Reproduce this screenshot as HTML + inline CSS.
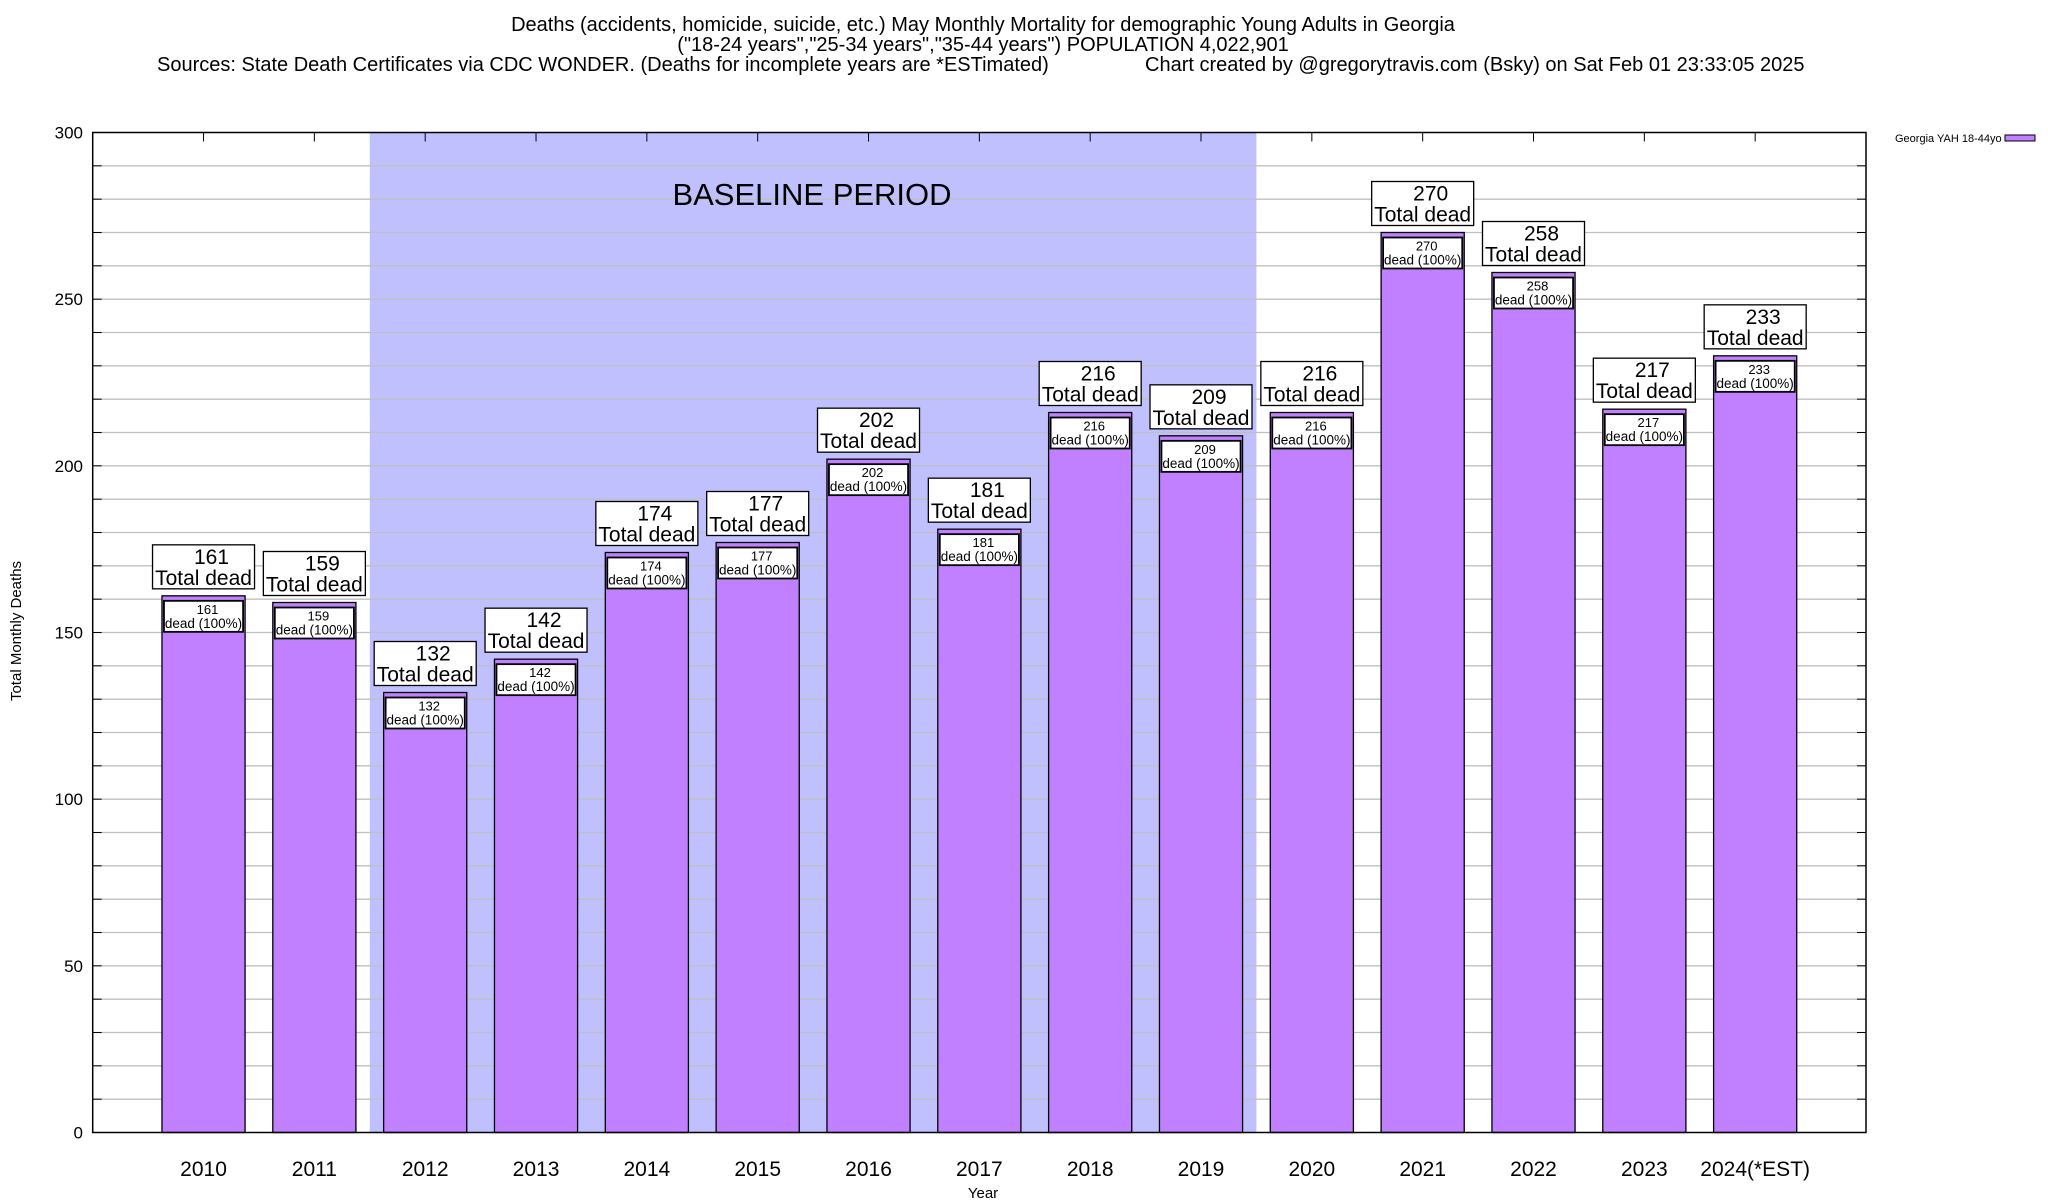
<!DOCTYPE html>
<html><head><meta charset="utf-8"><style>
html,body{margin:0;padding:0;background:#fff}
svg{display:block;font-family:"Liberation Sans",Arial,sans-serif}
</style></head><body>
<svg id="chart" width="2048" height="1200" viewBox="0 0 2048 1200" xmlns="http://www.w3.org/2000/svg">
<g font-size="20" fill="#000">
<text x="983" y="31" text-anchor="middle">Deaths (accidents, homicide, suicide, etc.) May Monthly Mortality for demographic Young Adults in Georgia</text>
<text x="983" y="51" text-anchor="middle">("18-24 years","25-34 years","35-44 years") POPULATION 4,022,901</text>
<text x="157" y="71">Sources: State Death Certificates via CDC WONDER. (Deaths for incomplete years are *ESTimated)</text>
<text x="1145" y="71">Chart created by @gregorytravis.com (Bsky) on Sat Feb 01 23:33:05 2025</text>
</g>
<g id="plot"></g>
</svg>
<script>
const categories = ["2010","2011","2012","2013","2014","2015","2016","2017","2018","2019","2020","2021","2022","2023","2024(*EST)"];
const deaths = [161,159,132,142,174,177,202,181,216,209,216,270,258,217,233];
const yTicks = [0,50,100,150,200,250,300];
const baselineStart = 1.5, baselineEnd = 9.5;

const L=92.7, R=1866, T=132.5, B=1132.5;
const yMax=300;
const xs = i => L + (i+1)*(R-L)/16;
const ys = v => B - v*(B-T)/yMax;
const unit = (R-L)/16;
const NS="http://www.w3.org/2000/svg";
const g=document.getElementById('plot');
function mk(tag,attrs,parent){const e=document.createElementNS(NS,tag);for(const k in attrs)e.setAttribute(k,attrs[k]);(parent||g).appendChild(e);return e;}

const sh=mk('rect',{x:xs(baselineStart),y:T,width:xs(baselineEnd)-xs(baselineStart),height:B-T,fill:'#c0c0ff'});


for(let v=10;v<yMax;v+=10){
  const l=mk('line',{x1:L,x2:R,y1:ys(v),y2:ys(v),stroke:'#c0c0c0','stroke-width':1.3});
  
  
  const t1=mk('line',{x1:L,x2:L+9,y1:ys(v),y2:ys(v),stroke:'#000','stroke-width':1});
  
  
  const t2=mk('line',{x1:R-9,x2:R,y1:ys(v),y2:ys(v),stroke:'#000','stroke-width':1});
  
  
}
const bt=mk('text',{x:812,y:205,'font-size':31,'text-anchor':'middle'});
bt.textContent='BASELINE PERIOD';


yTicks.forEach(v=>{
  const t=mk('text',{x:83,y:ys(v)+6,'font-size':17,'text-anchor':'end'});
  t.textContent=v;
  
  
});
categories.forEach((c,i)=>{
  const v=deaths[i], cx=xs(i), bw=unit*0.75, top=ys(v);
  const b=mk('rect',{x:cx-bw/2,y:top,width:bw,height:B-top,fill:'#c080ff',stroke:'#000','stroke-width':1.3});
  
  
  const ib=mk('rect',{x:cx-bw/2+2,y:top+5,width:bw-4,height:31,fill:'#fff',stroke:'#000','stroke-width':1.8});
  
  
  const it1=mk('text',{x:cx+4,y:top+18,'font-size':13,'text-anchor':'middle'});
  it1.textContent=v;
  
  
  const it2=mk('text',{x:cx,y:top+32,'font-size':13.5,'text-anchor':'middle'});
  it2.textContent='dead (100%)';
  
  
  const ob=mk('rect',{x:cx-51,y:top-51,width:102,height:44,fill:'#fff',stroke:'#000','stroke-width':1.3});
  
  
  const ot1=mk('text',{x:cx+8,y:top-32,'font-size':21,'text-anchor':'middle'});
  ot1.textContent=v;
  
  
  const ot2=mk('text',{x:cx,y:top-11,'font-size':21,'text-anchor':'middle'});
  ot2.textContent='Total dead';
  
  
  const xt=mk('text',{x:cx,y:1176,'font-size':21,'text-anchor':'middle'});
  xt.textContent=c;
  
  
  const tt=mk('line',{x1:cx,x2:cx,y1:T,y2:T+9,stroke:'#000','stroke-width':1});
  
  
});
const fr=mk('rect',{x:L,y:T,width:R-L,height:B-T,fill:'none',stroke:'#000','stroke-width':1.5});


const yl=mk('text',{x:0,y:0,'font-size':15,'text-anchor':'middle',transform:'translate(21,631) rotate(-90)'});
yl.textContent='Total Monthly Deaths';


const xl=mk('text',{x:983,y:1198,'font-size':15,'text-anchor':'middle'});
xl.textContent='Year';


const lg=mk('text',{x:1895,y:142,'font-size':11});
lg.textContent='Georgia YAH 18-44yo';


const ls=mk('rect',{x:2005,y:135,width:30,height:6,fill:'#c080ff',stroke:'#000','stroke-width':1});


</script>
</body></html>
